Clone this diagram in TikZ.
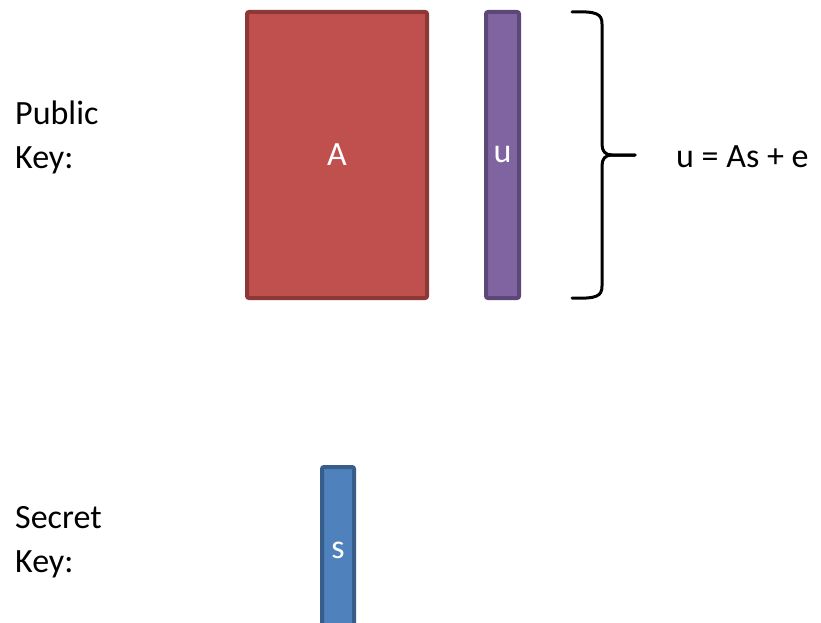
\documentclass[tikz,border=0pt]{standalone}
\usepackage{fontspec}
\setmainfont{Carlito}
\usepackage{tikz}
\usepackage{xcolor}
\usetikzlibrary{positioning}

\definecolor{redfill}{HTML}{C0504D}
\definecolor{redline}{HTML}{8C3836}
\definecolor{purplefill}{HTML}{8064A2}
\definecolor{purpleline}{HTML}{5C4776}
\definecolor{bluefill}{HTML}{4F81BD}
\definecolor{blueline}{HTML}{385D8A}

\tikzset{
  block/.style={draw, line width=4pt, rounded corners=2pt, text=white, inner sep=0pt},
  keytext/.style={align=left, inner sep=0pt},
  bracestyle/.style={line width=3pt, line cap=round, line join=round}
}

\begin{document}
\begin{tikzpicture}[x=1pt, y=-1pt, font=\fontsize{34}{44}\selectfont]
			\useasboundingbox (0,0) rectangle (821,623);
			\clip (0,0) rectangle (821,623);
			% public key
			\node[keytext, anchor=base west] (pubkey) at (15,168) {Public\\Key:};
			\node[block, fill=redfill, draw=redline, minimum width=180pt, minimum height=286pt] (matA) at (337,155) {A};
			\node[block, fill=purplefill, draw=purpleline, minimum width=33pt, minimum height=286pt] (vecu) at (502.5,155) {u};
			\coordinate (bracetop) at (572,12);
			\coordinate (bracetip) at (635,155);
			\coordinate (bracebot) at (572,298);
			\draw[bracestyle] (bracetop) .. controls (597,11) and (602,14) .. (602,24) -- (602,144)
			  .. controls (602,151) and (605,155) .. (612,155) -- (bracetip);
			\draw[bracestyle] (bracetip) -- (612,155) .. controls (605,155) and (602,159) .. (602,166)
			  -- (602,286) .. controls (602,296) and (597,299) .. (bracebot);
			\node[anchor=base west, inner sep=0pt] (eqn) at (676,167) {u = As + e};
			% secret key
			\node[keytext, anchor=base west] (seckey) at (15,572) {Secret\\Key:};
			\node[block, fill=bluefill, draw=blueline, minimum width=32pt, minimum height=200pt, text height=0pt] (vecs) at (338,567) {};
			\node[text=white, anchor=base] (lbls) at (338,558) {s};
		\end{tikzpicture}
\end{document}
